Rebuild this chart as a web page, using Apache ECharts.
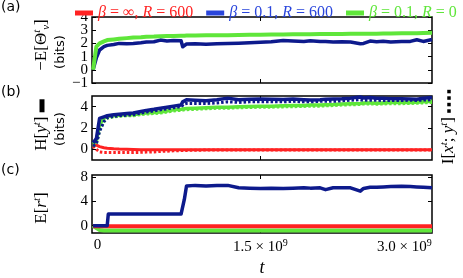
<!DOCTYPE html>
<html><head><meta charset="utf-8">
<script src="https://cdn.jsdelivr.net/npm/echarts@6/dist/echarts.min.js"></script>
<style>html,body{margin:0;padding:0;background:#fff}#c{width:463px;height:278px}</style>
</head><body><div id="c"></div>
<script>
// time grid, units of 1e9
const T = [-0.04,-0.01,0.02,0.06,0.09,0.1,0.15,0.2,0.27,0.33,0.4,0.45,0.52,0.58,0.64,0.7,0.77,0.785,0.8,0.82,0.9,1.0,1.1,1.2,1.3,1.4,1.5,1.6,1.71,1.8,1.9,1.96,2.05,2.1,2.17,2.25,2.33,2.42,2.45,2.51,2.57,2.63,2.7,2.8,2.88,2.94,3.0,3.08];
// panel (a): -E[Theta]
const aBlue  = [0,0.9,1.5,1.75,1.85,1.87,1.92,2.0,1.97,2.0,2.05,2.1,2.12,2.25,2.18,2.22,2.2,1.75,1.85,1.95,1.97,1.93,1.97,2.0,2.02,2.05,2.08,2.12,2.22,2.18,2.15,2.2,2.15,2.15,2.1,2.12,2.1,1.98,2.0,2.18,2.12,2.16,2.1,2.14,2.15,2.28,2.15,2.3];
const aGreen = [0,1.75,2.0,2.15,2.25,2.27,2.3,2.35,2.4,2.45,2.47,2.5,2.52,2.55,2.56,2.57,2.58,2.58,2.58,2.59,2.6,2.61,2.62,2.62,2.64,2.65,2.66,2.67,2.68,2.69,2.7,2.7,2.71,2.71,2.72,2.72,2.73,2.73,2.73,2.74,2.74,2.75,2.75,2.76,2.76,2.77,2.78,2.8];
// panel (b): H[y] (solid) and I[x;y] (dotted)
const bBlueH  = [0.6,1.0,2.9,3.05,3.15,3.15,3.25,3.3,3.35,3.4,3.55,3.65,3.75,3.85,3.95,4.05,4.15,4.45,4.6,4.65,4.6,4.55,4.65,4.8,4.65,4.7,4.72,4.7,4.68,4.72,4.65,4.62,4.66,4.7,4.72,4.75,4.8,4.9,4.82,4.85,4.8,4.78,4.75,4.75,4.72,4.7,4.78,4.85];
const bBlueI  = [0.3,0.5,1.7,2.6,2.95,3.0,3.1,3.15,3.2,3.25,3.4,3.5,3.6,3.7,3.8,3.9,4.0,4.15,4.25,4.3,4.3,4.3,4.35,4.45,4.4,4.45,4.45,4.45,4.45,4.5,4.45,4.45,4.5,4.5,4.5,4.55,4.6,4.65,4.6,4.6,4.6,4.58,4.58,4.58,4.6,4.58,4.62,4.65];
const bGreenH = [0.5,0.8,2.3,2.9,3.1,3.1,3.15,3.2,3.25,3.25,3.35,3.4,3.45,3.5,3.6,3.7,3.75,3.8,3.8,3.82,3.85,3.9,3.95,3.95,4.0,4.02,4.05,4.05,4.08,4.1,4.12,4.15,4.15,4.18,4.2,4.25,4.28,4.3,4.35,4.35,4.33,4.35,4.38,4.38,4.4,4.42,4.45,4.5];
const bGreenI = [0.3,0.5,1.8,2.6,2.9,2.95,3.05,3.1,3.15,3.15,3.25,3.3,3.35,3.4,3.5,3.6,3.65,3.7,3.7,3.72,3.75,3.8,3.85,3.85,3.9,3.92,3.95,3.95,3.98,4.0,4.02,4.05,4.05,4.08,4.1,4.15,4.18,4.2,4.25,4.25,4.23,4.25,4.28,4.28,4.3,4.32,4.35,4.4];
const bRedH   = [0.55,0.4,0.25,0.15,0.1,0.08,0.05,0.02,0,-0.02,-0.03,-0.04,-0.05,-0.05,-0.05,-0.05,-0.05,-0.05,-0.05,-0.05,-0.05,-0.05,-0.05,-0.05,-0.05,-0.05,-0.05,-0.05,-0.05,-0.05,-0.05,-0.05,-0.05,-0.05,-0.05,-0.05,-0.05,-0.05,-0.05,-0.05,-0.05,-0.05,-0.05,-0.05,-0.05,-0.05,-0.05,-0.05];
const bRedI   = [0.3,0.0,-0.25,-0.3,-0.3,-0.3,-0.3,-0.3,-0.3,-0.3,-0.28,-0.26,-0.24,-0.2,-0.17,-0.14,-0.12,-0.1,-0.1,-0.1,-0.08,-0.07,-0.07,-0.07,-0.07,-0.07,-0.07,-0.07,-0.07,-0.07,-0.07,-0.07,-0.07,-0.07,-0.07,-0.07,-0.07,-0.07,-0.07,-0.07,-0.07,-0.07,-0.07,-0.07,-0.07,-0.07,-0.07,-0.07];
// panel (c): E[r]
const cBlue  = [0,0,0,0,0,1.9,1.9,1.9,1.9,1.9,1.9,1.9,1.9,1.9,1.9,1.9,1.9,1.9,4.3,6.5,6.6,6.5,6.6,6.6,6.2,6.15,6.1,6.15,6.1,6.15,6.2,6.15,6.2,5.9,6.2,6.2,6.2,5.65,6.1,6.3,6.3,6.35,6.4,6.45,6.4,6.35,6.3,6.2];
const cGreen = [0,-0.4,-0.7,-0.8,-0.8,-0.8,-0.8,-0.8,-0.8,-0.8,-0.8,-0.8,-0.8,-0.8,-0.8,-0.8,-0.8,-0.8,-0.8,-0.8,-0.8,-0.8,-0.8,-0.8,-0.8,-0.8,-0.8,-0.8,-0.8,-0.8,-0.8,-0.8,-0.8,-0.8,-0.8,-0.8,-0.8,-0.8,-0.8,-0.8,-0.8,-0.8,-0.8,-0.8,-0.8,-0.8,-0.8,-0.8];
const cRed   = [-0.1,-0.1,-0.1,-0.1,-0.1,-0.1,-0.1,-0.1,-0.1,-0.1,-0.1,-0.1,-0.1,-0.1,-0.1,-0.1,-0.1,-0.1,-0.1,-0.1,-0.1,-0.1,-0.1,-0.1,-0.1,-0.1,-0.1,-0.1,-0.1,-0.1,-0.1,-0.1,-0.1,-0.1,-0.1,-0.1,-0.1,-0.1,-0.1,-0.1,-0.1,-0.1,-0.1,-0.1,-0.1,-0.1,-0.1,-0.1];
// ticks (panel (a) ticks split into two sets so labels are never auto-thinned)
const xLabelVals = [0, 1.5, 3.0];
const xTickVals = [1.5];
const aTicksOdd = [-1, 1, 3];
const aTicksEven = [0, 2, 4];
const bTicks = [0, 2, 4];
const cTicks = [0, 4, 8];
const legendNames = ['β = ∞, R = 600', 'β = 0.1, R = 600', 'β = 0.1, R = 0'];

const RED = '#ff2222', NAVY = '#0d1a8c', BLUE_LEG = '#2a46dc', GREEN = '#5fe63a';
const SERIF = 'Liberation Serif', SANS = 'DejaVu Sans';
const pairs = v => T.map((t, i) => [t, v[i]]);

const grids = [
  {left: 92, width: 340, top: 17, height: 66},
  {left: 92, width: 340, top: 96, height: 64},
  {left: 92, width: 340, top: 175, height: 65}
];
const ranges = [[-1, 4, [aTicksEven, aTicksOdd]], [-1, 5, [bTicks]], [-1.2, 8.3, [cTicks]]];

const xAxes = [], yAxes = [], mainY = [];
function yAx(g, mn, mx, tv, pos, labels) {
  return {
    gridIndex: g, type: 'value', min: mn, max: mx, position: pos,
    axisLine: {show: false, onZero: false}, splitLine: {show: false},
    axisTick: {show: true, inside: true, length: 4, customValues: tv, lineStyle: {color: '#000', width: 1}},
    axisLabel: {show: labels, customValues: tv, margin: 4, color: '#000', fontFamily: SERIF, fontSize: 15,
      showMinLabel: true, showMaxLabel: true, hideOverlap: false,
      formatter: v => v < 0 ? '−' + Math.abs(v) : String(v)}
  };
}
for (let g = 0; g < 3; g++) {
  const last = g === 2;
  xAxes.push({
    gridIndex: g, type: 'value', min: -0.05, max: 3.08, position: 'bottom',
    axisLine: {show: false, onZero: false}, splitLine: {show: false},
    axisTick: {show: true, inside: true, length: 4, customValues: xTickVals, lineStyle: {color: '#000', width: 1}},
    axisLabel: {show: last, customValues: xLabelVals, margin: 5, color: '#000',
      fontFamily: SERIF, fontSize: 15, showMinLabel: true, showMaxLabel: true,
      formatter: v => v === 0 ? '0' : (v === 1.5 ? '1.5 × 10{s|9}' : '{r|3.0 × 10}{rs|9}'),
      rich: {s: {fontSize: 10, fontFamily: SERIF, verticalAlign: 'top', padding: [0,0,8,0]},
             r: {fontSize: 15, fontFamily: SERIF},
             rs: {fontSize: 10, fontFamily: SERIF, verticalAlign: 'top', padding: [0,38,8,0]}}},
    name: last ? 't' : '', nameLocation: 'middle', nameGap: 26,
    nameTextStyle: {fontFamily: SERIF, fontStyle: 'italic', fontSize: 18, color: '#000'}
  });
  xAxes.push({
    gridIndex: g, type: 'value', min: -0.05, max: 3.08, position: 'top',
    axisLine: {show: false, onZero: false}, splitLine: {show: false}, axisLabel: {show: false},
    axisTick: {show: true, inside: true, length: 4, customValues: xTickVals, lineStyle: {color: '#000', width: 1}}
  });
  const [mn, mx, sets] = ranges[g];
  mainY.push(yAxes.length);
  sets.forEach(tv => {
    yAxes.push(yAx(g, mn, mx, tv, 'left', true));
    yAxes.push(yAx(g, mn, mx, tv, 'right', false));
  });
}

function line(name, g, data, color, width, dotted, z) {
  return {
    type: 'line', name: name, xAxisIndex: 2 * g, yAxisIndex: mainY[g], data: pairs(data),
    showSymbol: false, symbol: 'none', animation: false, z: z || 2,
    lineStyle: {color: color, width: width, type: dotted ? [2.5, 2] : 'solid', cap: 'butt', join: 'round'},
    itemStyle: {color: color}
  };
}
const series = [
  line(legendNames[1], 0, aBlue, NAVY, 3.5, false, 2),
  line(legendNames[2], 0, aGreen, GREEN, 4, false, 3),
  line(legendNames[0], 1, bRedI, RED, 3, true, 2),
  line(legendNames[0], 1, bRedH, RED, 3, false, 2),
  line(legendNames[2], 1, bGreenH, GREEN, 3.5, false, 3),
  line(legendNames[2], 1, bGreenI, GREEN, 3, true, 3),
  line(legendNames[1], 1, bBlueH, NAVY, 3.5, false, 4),
  line(legendNames[1], 1, bBlueI, NAVY, 3, true, 5),
  line(legendNames[2], 2, cGreen, GREEN, 4, false, 2),
  line(legendNames[0], 2, cRed, RED, 4, false, 3),
  line(legendNames[1], 2, cBlue, NAVY, 3.5, false, 4)
];

const mathRich = {
  n: {fontFamily: SERIF, fontSize: 17, color: '#000', lineHeight: 20},
  i: {fontFamily: SERIF, fontSize: 17, fontStyle: 'italic', color: '#000', lineHeight: 20},
  sp: {fontFamily: SERIF, fontSize: 11, fontStyle: 'italic', color: '#000', verticalAlign: 'top', lineHeight: 11},
  sb: {fontFamily: SERIF, fontSize: 11, fontStyle: 'italic', color: '#000', verticalAlign: 'bottom', lineHeight: 11},
  bar: {width: 13, height: 5, backgroundColor: '#000', lineHeight: 20},
  dot: {width: 3.5, height: 3.5, backgroundColor: '#000'},
  gap: {width: 3, height: 3.5}
};
function vtext(x, y, text, rich, font, size) {
  return {type: 'text', x: x, y: y, rotation: Math.PI / 2,
    style: {text: text, rich: rich, align: 'center', verticalAlign: 'middle',
      fontFamily: font || SERIF, fontSize: size || 17, fill: '#000'}};
}
const graphic = [
  {type: 'text', left: 1, top: 0, style: {text: '(a)', fontFamily: SANS, fontSize: 14, fill: '#000'}},
  {type: 'text', left: 1, top: 85, style: {text: '(b)', fontFamily: SANS, fontSize: 14, fill: '#000'}},
  {type: 'text', left: 1, top: 163, style: {text: '(c)', fontFamily: SANS, fontSize: 14, fill: '#000'}},
  vtext(42, 45, '{n|−E[Θ}{sp|t}{sb|ν}{n|]}', mathRich),
  vtext(61, 52, '(bits)', {}, SANS, 13),
  vtext(42, 125, '{n|H[}{i|y}{sp|t}{n|]} {bar|}', mathRich),
  vtext(61, 129, '(bits)', {}, SANS, 13),
  vtext(42, 208, '{n|E[}{i|r}{sp|t}{n|]}', mathRich),
  vtext(449, 127, '{n|I[}{i|x}{sp|t}{n|; }{i|y}{sp|t}{n|]} {dot|}{gap|}{dot|}{gap|}{dot|}{gap|}{dot|}', mathRich)
];

const legendRich = {i: {fontStyle: 'italic', fontFamily: SERIF, fontSize: 16}};
const chart = echarts.init(document.getElementById('c'), null, {renderer: 'canvas'});
chart.setOption({
  animation: false,
  backgroundColor: '#fff',
  grid: grids.map(g => Object.assign({show: true, borderColor: '#000', borderWidth: 1.5, backgroundColor: 'transparent'}, g)),
  xAxis: xAxes, yAxis: yAxes,
  legend: {
    left: 70, top: 0, itemGap: 13, itemWidth: 18, itemHeight: 5, icon: 'rect', selectedMode: false,
    textStyle: {fontFamily: SERIF, fontSize: 16, rich: legendRich},
    formatter: n => n.replace('β', '{i|β}').replace('R', '{i|R}'),
    data: [
      {name: legendNames[0], itemStyle: {color: RED}, textStyle: {color: RED}},
      {name: legendNames[1], itemStyle: {color: BLUE_LEG}, textStyle: {color: BLUE_LEG}},
      {name: legendNames[2], itemStyle: {color: GREEN}, textStyle: {color: GREEN}}
    ]
  },
  graphic: graphic,
  series: series
});
</script></body></html>
